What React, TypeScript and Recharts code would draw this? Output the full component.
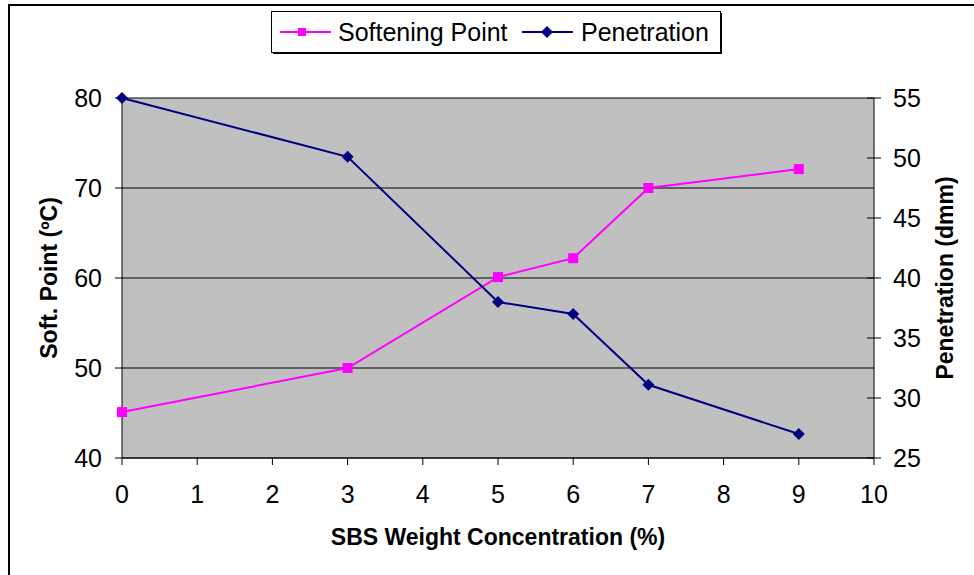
import {
	CartesianGrid,
	Label,
	Line,
	LineChart,
	XAxis,
	YAxis,
} from "recharts";

// SBS content vs. softening point / penetration
const sbsConc = [0, 3, 5, 6, 7, 9];
const softening = [45.1, 50, 60.1, 62.2, 70, 72.1];
const penetration = [55, 50.1, 38, 37, 31.1, 27];

const xTicks = [0, 1, 2, 3, 4, 5, 6, 7, 8, 9, 10];
const softTicks = [40, 50, 60, 70, 80];
const penTicks = [25, 30, 35, 40, 45, 50, 55];

const MAGENTA = "#FF00FF";
const NAVY = "#000080";
const FONT = '"Liberation Sans", Arial, sans-serif';

const chartData = sbsConc.map((x, i) => ({
	x,
	soft: softening[i],
	pen: penetration[i],
}));

function SquareDot(props: any) {
	const { cx, cy, index } = props;
	if (cx == null || cy == null) return <g key={index} />;
	return (
		<rect key={index} x={cx - 5} y={cy - 5} width={10} height={10} fill={MAGENTA} />
	);
}

function DiamondDot(props: any) {
	const { cx, cy, index } = props;
	if (cx == null || cy == null) return <g key={index} />;
	const r = 6;
	return (
		<polygon
			key={index}
			points={`${cx},${cy - r} ${cx + r},${cy} ${cx},${cy + r} ${cx - r},${cy}`}
			fill={NAVY}
		/>
	);
}

// right axis ticks cross the axis line
function RightTick(props: any) {
	const { x, y, payload } = props;
	const ax = x - 19;
	return (
		<g>
			<line x1={ax - 7} x2={ax} y1={y} y2={y} stroke="#000" />
			<text x={x} y={y} dy="0.355em" textAnchor="start" fontSize={25} fill="#000" fontFamily={FONT}>
				{payload.value}
			</text>
		</g>
	);
}

function ChartLegend() {
	return (
		<svg
			width={451}
			height={43}
			style={{ position: "absolute", left: 271, top: 11 }}
		>
			<rect x={0.5} y={0.5} width={449} height={41} fill="#fff" stroke="#000" />
			<line x1={2} x2={450} y1={42.5} y2={42.5} stroke="#000" />
			<line x1={450.5} x2={450.5} y1={2} y2={43} stroke="#000" />
			<line x1={9} x2={60} y1={21} y2={21} stroke={MAGENTA} strokeWidth={2} />
			<rect x={27} y={17} width={8} height={8} fill={MAGENTA} />
			<text x={67} y={30} fontSize={25} fontFamily={FONT} fill="#000">
				Softening Point
			</text>
			<line x1={251} x2={302} y1={21} y2={21} stroke={NAVY} strokeWidth={2} />
			<polygon points="276,15 282,21 276,27 270,21" fill={NAVY} />
			<text x={310} y={30} fontSize={25} fontFamily={FONT} fill="#000">
				Penetration
			</text>
		</svg>
	);
}

export default function App() {
	const tickStyle = { fontSize: 25, fill: "#000", fontFamily: FONT };
	const titleStyle = {
		fontSize: 23,
		fontWeight: "bold",
		fill: "#000",
		fontFamily: FONT,
		textAnchor: "middle",
	} as any;

	return (
		<div
			style={{
				position: "absolute",
				left: 0,
				top: 0,
				width: 974,
				height: 575,
				overflow: "hidden",
				background: "#fff",
				fontFamily: FONT,
			}}
		>
			<div
				style={{
					position: "absolute",
					left: 8,
					top: 4,
					width: 1200,
					height: 800,
					border: "2px solid #000",
				}}
			/>
			<div style={{ position: "absolute", left: 0, top: 0 }}>
				<LineChart
					width={974}
					height={575}
					data={chartData}
					margin={{ top: 98, right: 0, bottom: 0, left: 0 }}
				>
					<CartesianGrid
						yAxisId="left"
						vertical={false}
						stroke="#000"
						fill="#C0C0C0"
						fillOpacity={1}
					/>
					<XAxis
						dataKey="x"
						type="number"
						domain={[0, 10]}
						ticks={xTicks}
						interval={0}
						height={117}
						tick={tickStyle}
						tickSize={7}
						tickMargin={20}
						stroke="#000"
						tickLine={{ stroke: "#000" }}
						axisLine={{ stroke: "#000" }}
					>
						<Label
							value="SBS Weight Concentration (%)"
							position="insideBottom"
							offset={30}
							style={titleStyle}
						/>
					</XAxis>
					<YAxis
						yAxisId="left"
						domain={[40, 80]}
						ticks={softTicks}
						interval={0}
						width={122}
						tick={tickStyle}
						tickSize={7}
						tickMargin={13}
						stroke="#000"
						tickLine={{ stroke: "#000" }}
						axisLine={{ stroke: "#000" }}
					>
						<Label
							value="Soft. Point (ºC)"
							angle={-90}
							position="insideLeft"
							offset={49}
							style={titleStyle}
						/>
					</YAxis>
					<YAxis
						yAxisId="right"
						orientation="right"
						domain={[25, 55]}
						ticks={penTicks}
						interval={0}
						width={100}
						tick={<RightTick />}
						tickSize={7}
						tickMargin={12}
						stroke="#000"
						tickLine={{ stroke: "#000" }}
						axisLine={{ stroke: "#000" }}
					>
						<Label
							value="Penetration (dmm)"
							angle={-90}
							position="insideRight"
							offset={29}
							style={titleStyle}
						/>
					</YAxis>
					<Line
						yAxisId="left"
						dataKey="soft"
						stroke={MAGENTA}
						strokeWidth={2}
						dot={SquareDot}
						activeDot={false}
						isAnimationActive={false}
					/>
					<Line
						yAxisId="right"
						dataKey="pen"
						stroke={NAVY}
						strokeWidth={2}
						dot={DiamondDot}
						activeDot={false}
						isAnimationActive={false}
					/>
				</LineChart>
			</div>
			<ChartLegend />
		</div>
	);
}
